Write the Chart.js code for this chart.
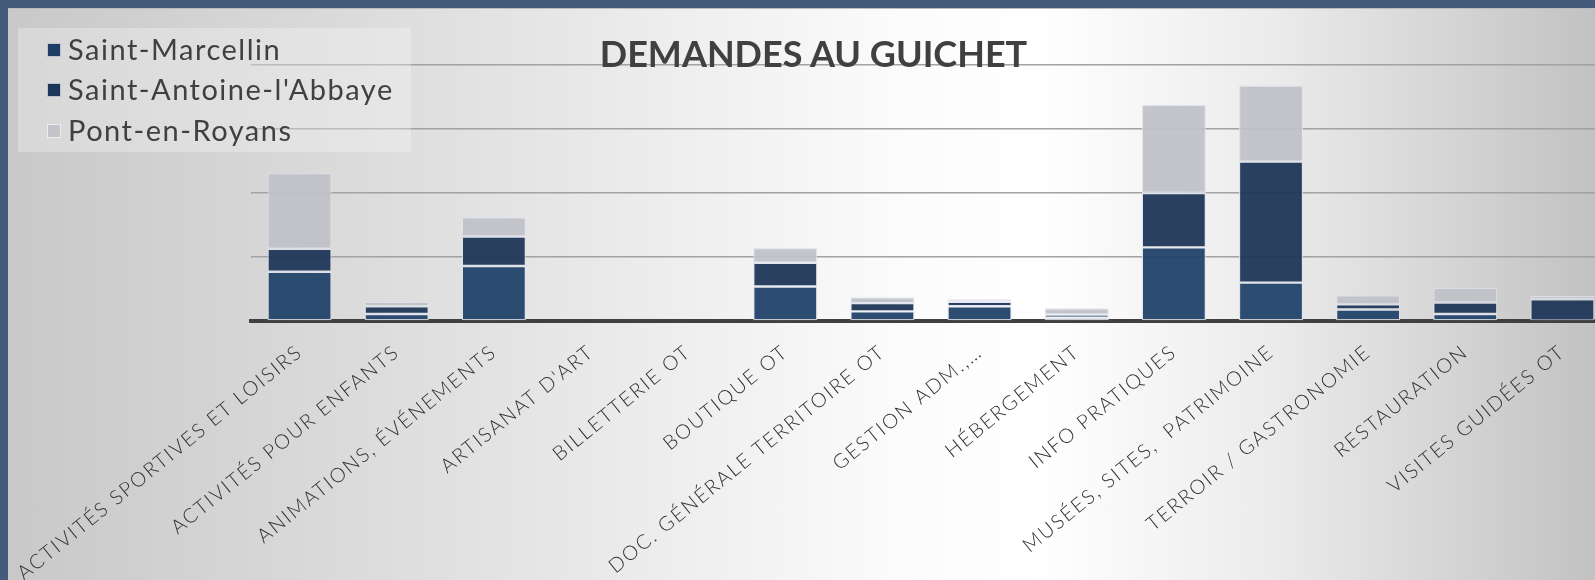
<!DOCTYPE html>
<html>
<head>
<meta charset="utf-8">
<script src="https://cdn.jsdelivr.net/npm/chart.js@4.4.1/dist/chart.umd.min.js"></script>
<style>
  html, body { margin: 0; padding: 0; overflow: hidden; }
  #wrap {
    position: relative; width: 1595px; height: 580px; overflow: hidden;
    background: linear-gradient(90deg, #c8c8c8 0%, #e2e2e2 30%, #fbfbfb 56%, #ffffff 65%, #ebebeb 80%, #c2c2c2 100%);
    font-family: 'Lato', sans-serif;
  }
  #cv { position: absolute; left: 0; top: 0; }
  #topbar { position: absolute; left: 0; top: 0; width: 1595px; height: 8px; background: #455b7b; border-bottom: 1px solid #b8bcc4; }
  #leftbar { position: absolute; left: 0; top: 0; width: 8px; height: 580px; background: #455b7b; }
  #title {
    position: absolute; left: 0; width: 1627px; top: 35px; text-align: center;
    font: bold 36px 'Lato', sans-serif; line-height: 36px; color: #404040; letter-spacing: 0px;
  }
  #legend {
    position: absolute; left: 18px; top: 28px; width: 393px; height: 124px;
    background: rgba(255,255,255,0.28);
  }
  .lg-item { position: absolute; left: 0; height: 40px; }
  .lg-box { position: absolute; left: 29px; width: 12px; height: 12px; border: 1px solid rgba(255,255,255,0.7); }
  .lg-text { position: absolute; left: 50px; white-space: nowrap; font: 29px 'Lato', sans-serif; line-height: 40px; color: #404040; letter-spacing: 1.5px; }
</style>
</head>
<body>
<div id="wrap">
  <canvas id="cv" width="1620" height="580"></canvas>
  <div id="title">DEMANDES AU GUICHET</div>
  <div id="legend"></div>
  <div id="topbar"></div>
  <div id="leftbar"></div>
</div>
<script>
const categories = [
  "ACTIVITÉS SPORTIVES ET LOISIRS",
  "ACTIVITÉS POUR ENFANTS",
  "ANIMATIONS, ÉVÉNEMENTS",
  "ARTISANAT D'ART",
  "BILLETTERIE OT",
  "BOUTIQUE OT",
  "DOC. GÉNÉRALE TERRITOIRE OT",
  "GESTION ADM.,…",
  "HÉBERGEMENT",
  "INFO PRATIQUES",
  "MUSÉES, SITES,  PATRIMOINE",
  "TERROIR / GASTRONOMIE",
  "RESTAURATION",
  "VISITES GUIDÉES OT"
];
const seriesNames = ["Saint-Marcellin", "Saint-Antoine-l'Abbaye", "Pont-en-Royans"];
const saintMarcellin = [77, 11, 86, 1, 0, 54, 15, 23, 5, 115, 60, 18, 11, 1];
const saintAntoine   = [36, 12, 46, 0, 0, 37, 13, 7, 5, 85, 189, 8, 18, 33];
const pontEnRoyans   = [118, 7, 30, 0, 0, 23, 9, 4, 10, 138, 119, 14, 23, 5];
const yMax = 400;
const yStep = 100;

const colors = ['rgba(36,69,107,0.96)', 'rgba(32,56,89,0.96)', 'rgba(192,194,200,0.95)'];
const legendColors = ['#1f3d66', '#1d375a', '#c2c4ca'];
const seriesData = [saintMarcellin, saintAntoine, pontEnRoyans];

// HTML legend
const lg = document.getElementById('legend');
seriesNames.forEach((name, i) => {
  const item = document.createElement('div');
  item.className = 'lg-item';
  item.style.top = (0.5 + i * 40.5) + 'px';
  const box = document.createElement('div');
  box.className = 'lg-box';
  box.style.top = '14px';
  box.style.background = legendColors[i];
  const txt = document.createElement('div');
  txt.className = 'lg-text';
  txt.style.top = '0px';
  txt.textContent = name;
  item.appendChild(box); item.appendChild(txt);
  lg.appendChild(item);
});

const spacingPlugin = {
  id: 'spacing',
  beforeDraw(chart) { chart.ctx.letterSpacing = '1.8px'; }
};

new Chart(document.getElementById('cv'), {
  type: 'bar',
  data: {
    labels: categories,
    datasets: seriesNames.map((name, i) => ({
      label: name,
      data: seriesData[i],
      backgroundColor: colors[i],
      borderColor: 'rgba(222,226,236,0.85)',
      borderWidth: 1.2,
      borderSkipped: false,
      barPercentage: 0.66,
      categoryPercentage: 1.0
    }))
  },
  options: {
    responsive: false,
    animation: false,
    devicePixelRatio: 1,
    layout: { padding: { left: 251, right: 9, top: 65, bottom: 0 } },
    plugins: { legend: { display: false }, title: { display: false }, tooltip: { enabled: false } },
    scales: {
      x: {
        stacked: true,
        grid: { display: false, drawTicks: false },
        border: { display: true, color: '#404040', width: 4 },
        ticks: {
          minRotation: 39, maxRotation: 39, autoSkip: false, padding: 19,
          color: '#333333',
          font: { family: 'Lato', size: 20, weight: '300' }
        },
        afterFit(scale) { scale.height = 259; scale.paddingLeft = 0; scale.paddingRight = 0; }
      },
      y: {
        stacked: true,
        min: 0, max: yMax,
        ticks: { display: false, stepSize: yStep },
        grid: { color: '#a2a2a2', lineWidth: 1.5, drawTicks: false },
        border: { display: false },
        afterFit(scale) { scale.width = 0; scale.paddingTop = 0; scale.paddingBottom = 0; }
      }
    }
  },
  plugins: [spacingPlugin]
});
</script>
</body>
</html>
